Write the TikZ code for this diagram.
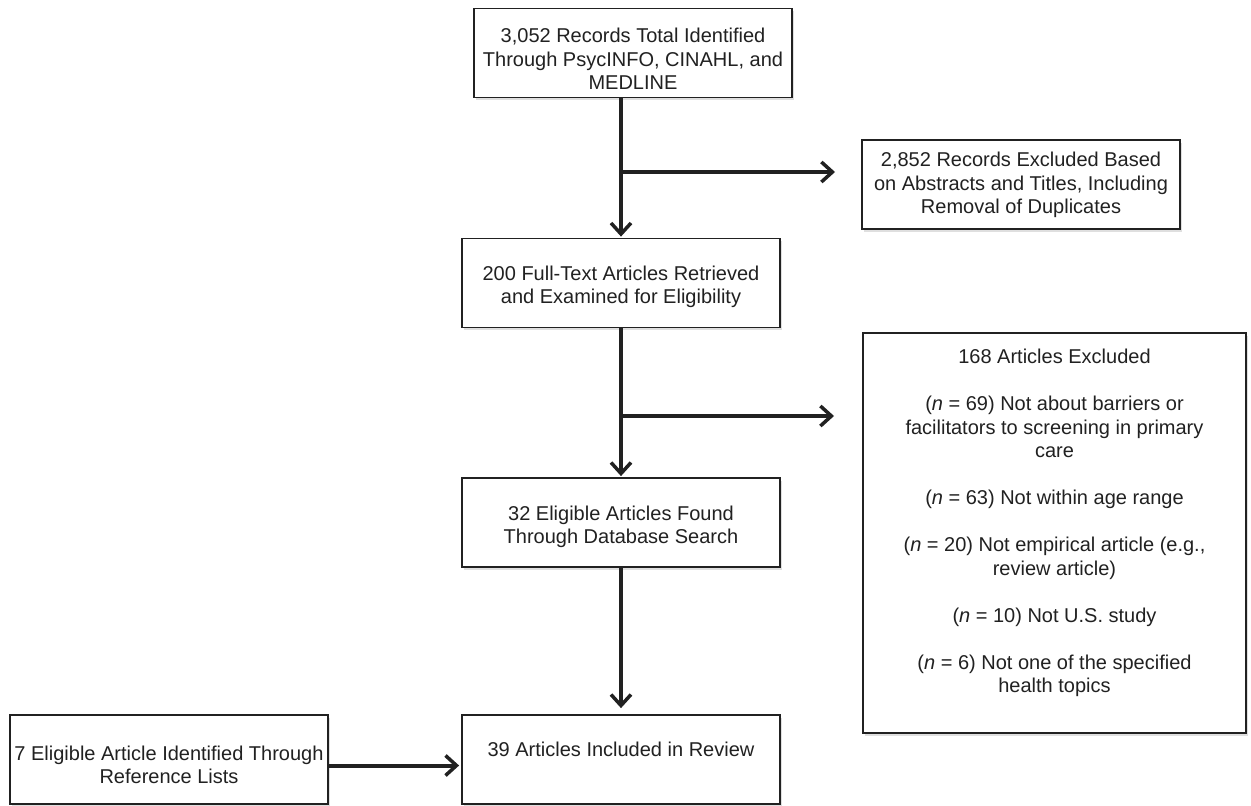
\documentclass[tikz,border=0pt]{standalone}
\usepackage{fontspec}
\setmainfont{Liberation Sans}
\usetikzlibrary{arrows.meta,shadows}
\definecolor{ink}{rgb}{0.13,0.13,0.13}
\begin{document}
\begin{tikzpicture}[x=1pt,y=-1pt,
  boxshape/.style={draw=ink, line width=1.8pt, fill=white, rectangle, inner sep=0pt,
    minimum width=318pt, minimum height=89pt,
    drop shadow={shadow xshift=2pt, shadow yshift=-2.5pt, opacity=0.25}},
  txt/.style={align=center, inner sep=0pt, text=ink, font=\fontsize{20}{23.5}\selectfont},
  flow/.style={draw=ink, line width=4pt, -{Straight Barb[length=11pt,width=20pt,line width=3.5pt]}}]
\useasboundingbox (0,0) rectangle (1251,806);
% boxes
\node[boxshape] (b1) at (633,53) {};
\node[txt] (t1) at (633,59) {3,052 Records Total Identified\\Through PsycINFO, CINAHL, and\\MEDLINE};
\node[boxshape] (b2) at (1021,184.5) {};
\node[txt] (t2) at (1021,185) {2,852 Records Excluded Based\\on Abstracts and Titles, Including\\Removal of Duplicates};
\node[boxshape] (b3) at (621,283) {};
\node[txt] (t3) at (621,287) {200 Full-Text Articles Retrieved\\and Examined for Eligibility};
\node[boxshape, minimum width=383pt, minimum height=400pt] (b4) at (1054.5,533) {};
\node[txt] (t4) at (1054.5,523) {168 Articles Excluded\\[23.5pt]
(\textit{n} = 69) Not about barriers or\\facilitators to screening in primary\\care\\[23.5pt]
(\textit{n} = 63) Not within age range\\[23.5pt]
(\textit{n} = 20) Not empirical article (e.g.,\\review article)\\[23.5pt]
(\textit{n} = 10) Not U.S. study\\[23.5pt]
(\textit{n} = 6) Not one of the specified\\health topics};
\node[boxshape] (b5) at (621,522.5) {};
\node[txt] (t5) at (621,527) {32 Eligible Articles Found\\Through Database Search};
\node[boxshape] (b6) at (621,759.5) {};
\node[txt] (t6) at (621,749) {39 Articles Included in Review};
\node[boxshape] (b7) at (169,759.5) {};
\node[txt] (t7) at (169,765) {7 Eligible Article Identified Through\\Reference Lists};
% junctions
\coordinate (j1) at (621,172);
\coordinate (e1) at (835,172);
\coordinate (j2) at (621,416);
\coordinate (e2) at (834,416);
% connectors
\draw[flow, shorten >=1pt] (b1.south -| b3.north) -- (b3.north);
\draw[flow] (j1) -- (e1);
\draw[flow, shorten >=1pt] (b3.south) -- (b5.north);
\draw[flow] (j2) -- (e2);
\draw[flow, shorten >=6pt] (b5.south) -- (b6.north);
\draw[flow, shorten >=2pt] ([yshift=-6pt]b7.east) -- ([yshift=-6pt]b6.west);
\end{tikzpicture}
\end{document}
